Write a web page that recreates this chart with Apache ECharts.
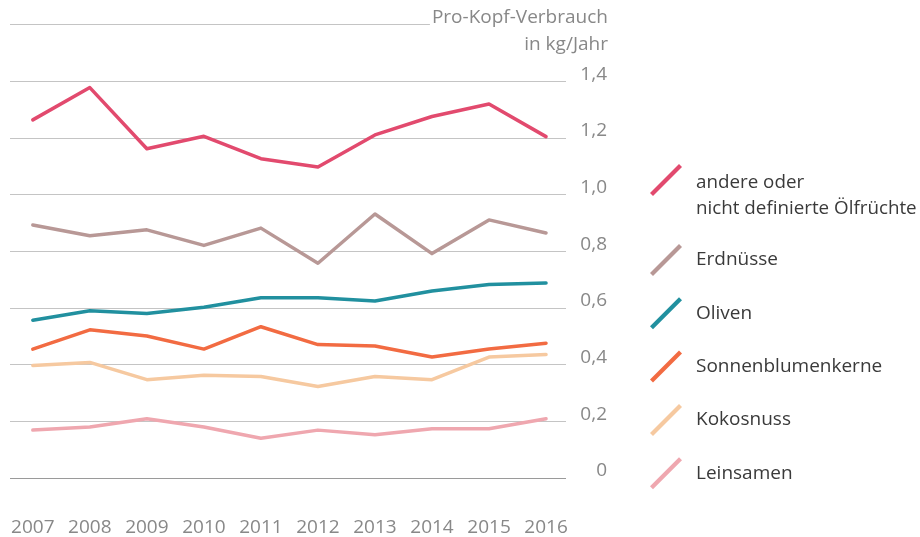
<!DOCTYPE html>
<html>
<head>
<meta charset="utf-8">
<script src="https://cdn.jsdelivr.net/npm/echarts@6/dist/echarts.min.js"></script>
<style>
  html, body { margin: 0; padding: 0; background: #fff; }
  #chart { width: 920px; height: 537px; }
</style>
</head>
<body>
<div id="chart"></div>
<script>
const years = [2007, 2008, 2009, 2010, 2011, 2012, 2013, 2014, 2015, 2016];

const andere = [1.264, 1.378, 1.162, 1.206, 1.127, 1.098, 1.211, 1.276, 1.320, 1.205];
const erdnuesse = [0.893, 0.855, 0.876, 0.821, 0.882, 0.758, 0.932, 0.792, 0.911, 0.865];
const oliven = [0.557, 0.590, 0.581, 0.603, 0.636, 0.636, 0.625, 0.660, 0.683, 0.688];
const sonnenblumen = [0.455, 0.523, 0.501, 0.455, 0.534, 0.471, 0.466, 0.427, 0.455, 0.476];
const kokos = [0.397, 0.408, 0.347, 0.363, 0.358, 0.323, 0.358, 0.347, 0.427, 0.436];
const leinsamen = [0.169, 0.180, 0.209, 0.180, 0.140, 0.169, 0.153, 0.174, 0.174, 0.209];

const names = [
  'andere oder nicht definierte Ölfrüchte',
  'Erdnüsse',
  'Oliven',
  'Sonnenblumenkerne',
  'Kokosnuss',
  'Leinsamen'
];
const values = [andere, erdnuesse, oliven, sonnenblumen, kokos, leinsamen];
const colors = ['#E24A6E', '#B89896', '#21909F', '#F26B42', '#F6C9A0', '#EFA7AF'];

const yTicks = [0, 0.2, 0.4, 0.6, 0.8, 1.0, 1.2, 1.4];
const unitLabel = 'Pro-Kopf-Verbrauch\nin kg/Jahr';

const font = 'Open Sans';
const legendIcon = 'path://M0,29 L29,0 L32,3 L3,32 Z';

const chart = echarts.init(document.getElementById('chart'));

const series = names.map((n, k) => ({
  name: n,
  type: 'line',
  symbol: 'none',
  color: colors[k],
  lineStyle: { width: 3.5, color: colors[k], cap: 'round', join: 'round' },
  data: years.map((y, i) => [y, values[k][i]])
}));

const legendText = {
  fontFamily: font,
  fontSize: 19,
  color: '#3a3a3a',
  lineHeight: 26
};

chart.setOption({
  animation: false,
  title: {
    text: unitLabel,
    right: 136,
    top: 1,
    padding: [3, 0, 3, 2],
    backgroundColor: '#fff',
    textAlign: 'right',
    textStyle: {
      fontFamily: font,
      fontSize: 19,
      fontWeight: 'normal',
      color: '#888',
      lineHeight: 27
    }
  },
  grid: {
    left: 10,
    right: 354,
    top: 24.7,
    bottom: 58.7
  },
  xAxis: {
    type: 'value',
    min: 2006.6,
    max: 2016.35,
    axisLine: { show: false },
    axisTick: { show: false },
    splitLine: { show: false },
    axisLabel: {
      customValues: years,
      formatter: v => String(v),
      margin: 40,
      fontFamily: font,
      fontSize: 19,
      color: '#888'
    }
  },
  yAxis: {
    type: 'value',
    position: 'right',
    min: 0,
    max: 1.6,
    interval: 0.2,
    axisLine: { show: false },
    axisTick: { show: false },
    splitLine: {
      lineStyle: {
        width: 1,
        color: ['#9a9a9a', '#c4c4c4', '#c4c4c4', '#c4c4c4', '#c4c4c4', '#c4c4c4', '#c4c4c4', '#c4c4c4', '#c4c4c4']
      }
    },
    axisLabel: {
      margin: 41,
      align: 'right',
      verticalAlign: 'bottom',
      lineHeight: 14,
      fontFamily: font,
      fontSize: 19,
      color: '#888',
      formatter: v => {
        if (!yTicks.some(t => Math.abs(t - v) < 1e-6)) return '';
        return v === 0 ? '0' : v.toFixed(1).replace('.', ',');
      }
    }
  },
  legend: [
    {
      orient: 'vertical',
      left: 650,
      top: 153,
      padding: 0,
      itemWidth: 50,
      itemHeight: 32,
      icon: legendIcon,
      selectedMode: false,
      data: [names[0]],
      formatter: () => '{p| }\n{a|andere oder}\n{a|nicht definierte Ölfrüchte}',
      textStyle: {
        fontFamily: font,
        fontSize: 19,
        color: '#3a3a3a',
        rich: {
          p: { fontSize: 2, lineHeight: 31 },
          a: { fontFamily: font, fontSize: 18.8, color: '#3a3a3a', lineHeight: 26 }
        }
      }
    },
    {
      orient: 'vertical',
      left: 650,
      top: 244,
      padding: 0,
      itemGap: 21.3,
      itemWidth: 50,
      itemHeight: 32,
      icon: legendIcon,
      selectedMode: false,
      data: names.slice(1),
      textStyle: legendText
    }
  ],
  series: series
});
</script>
</body>
</html>
